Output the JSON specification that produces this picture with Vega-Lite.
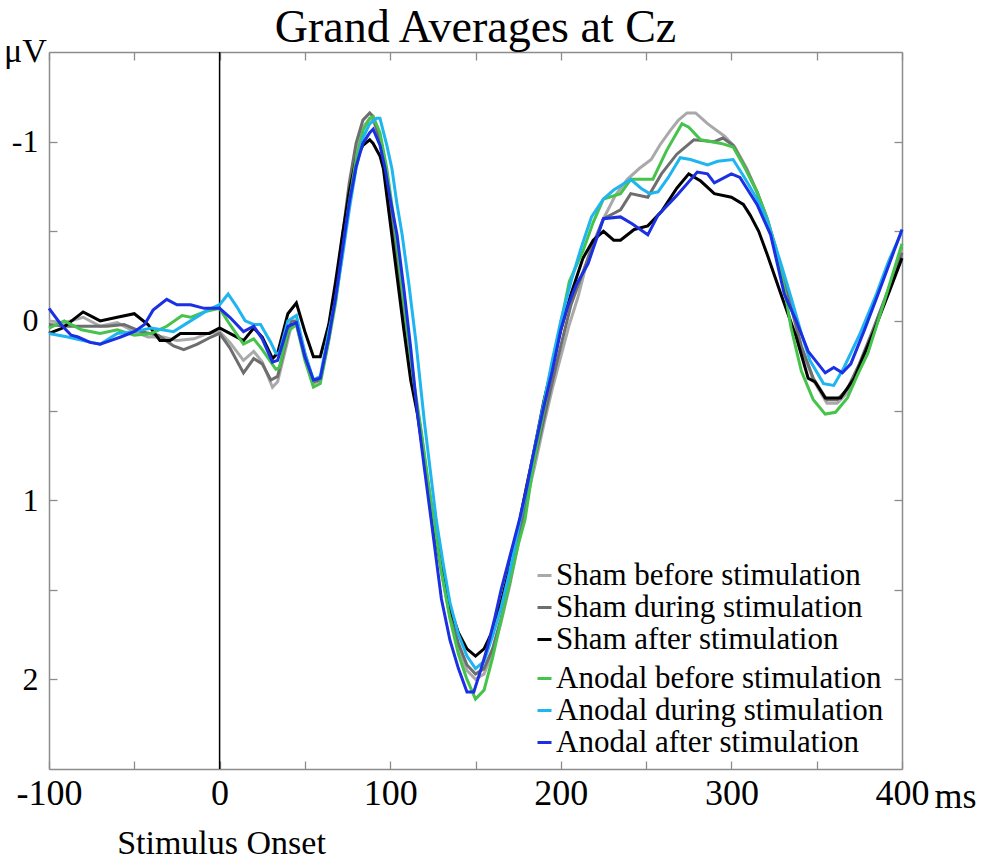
{
  "$schema": "https://vega.github.io/schema/vega-lite/v6.json",
  "width": 853,
  "height": 717,
  "autosize": {"type": "none"},
  "padding": {"left": 49, "top": 52, "right": 81, "bottom": 90},
  "background": "white",
  "config": {
    "font": "Liberation Serif",
    "view": {"stroke": null},
    "axis": {
      "grid": false,
      "domainColor": "#8c8c8c",
      "domainWidth": 1.5,
      "tickColor": "#8c8c8c",
      "tickWidth": 1.3,
      "tickSize": -8,
      "labelFont": "Liberation Serif",
      "labelColor": "black",
      "titleFont": "Liberation Serif",
      "titleColor": "black",
      "titleFontWeight": "normal"
    }
  },
  "title": {
    "text": "Grand Averages at Cz",
    "font": "Liberation Serif",
    "fontSize": 46,
    "fontWeight": "normal",
    "color": "black",
    "anchor": "middle",
    "frame": "group",
    "baseline": "alphabetic",
    "offset": 0,
    "dy": 54
  },
  "datasets": {
    "sham": [
      {"c":"Sham before stimulation","t":-100,"v":0},{"c":"Sham before stimulation","t":-91,"v":0.01},{"c":"Sham before stimulation","t":-80,"v":-0.02},{"c":"Sham before stimulation","t":-70,"v":0.03},{"c":"Sham before stimulation","t":-60,"v":0.01},{"c":"Sham before stimulation","t":-50,"v":0.06},{"c":"Sham before stimulation","t":-42,"v":0.09},{"c":"Sham before stimulation","t":-33,"v":0.09},{"c":"Sham before stimulation","t":-25,"v":0.11},{"c":"Sham before stimulation","t":-15,"v":0.1},{"c":"Sham before stimulation","t":-7,"v":0.07},{"c":"Sham before stimulation","t":0,"v":0.06},{"c":"Sham before stimulation","t":6,"v":0.12},{"c":"Sham before stimulation","t":14,"v":0.22},{"c":"Sham before stimulation","t":20,"v":0.17},{"c":"Sham before stimulation","t":25,"v":0.23},{"c":"Sham before stimulation","t":31,"v":0.37},{"c":"Sham before stimulation","t":34,"v":0.34},{"c":"Sham before stimulation","t":42,"v":0.03},{"c":"Sham before stimulation","t":45,"v":0.02},{"c":"Sham before stimulation","t":50,"v":0.2},{"c":"Sham before stimulation","t":55,"v":0.35},{"c":"Sham before stimulation","t":59,"v":0.33},{"c":"Sham before stimulation","t":64,"v":0.1},{"c":"Sham before stimulation","t":68,"v":-0.12},{"c":"Sham before stimulation","t":72,"v":-0.42},{"c":"Sham before stimulation","t":76,"v":-0.7},{"c":"Sham before stimulation","t":80,"v":-0.93},{"c":"Sham before stimulation","t":84,"v":-1.08},{"c":"Sham before stimulation","t":88,"v":-1.13},{"c":"Sham before stimulation","t":90,"v":-1.12},{"c":"Sham before stimulation","t":94,"v":-1.02},{"c":"Sham before stimulation","t":98,"v":-0.8},{"c":"Sham before stimulation","t":102,"v":-0.52},{"c":"Sham before stimulation","t":106,"v":-0.2},{"c":"Sham before stimulation","t":110,"v":0.1},{"c":"Sham before stimulation","t":114,"v":0.38},{"c":"Sham before stimulation","t":118,"v":0.62},{"c":"Sham before stimulation","t":122,"v":0.9},{"c":"Sham before stimulation","t":126,"v":1.15},{"c":"Sham before stimulation","t":130,"v":1.4},{"c":"Sham before stimulation","t":135,"v":1.65},{"c":"Sham before stimulation","t":140,"v":1.82},{"c":"Sham before stimulation","t":145,"v":1.95},{"c":"Sham before stimulation","t":150,"v":2.0},{"c":"Sham before stimulation","t":155,"v":1.97},{"c":"Sham before stimulation","t":160,"v":1.85},{"c":"Sham before stimulation","t":165,"v":1.68},{"c":"Sham before stimulation","t":170,"v":1.48},{"c":"Sham before stimulation","t":176,"v":1.2},{"c":"Sham before stimulation","t":180,"v":1.0},{"c":"Sham before stimulation","t":185,"v":0.8},{"c":"Sham before stimulation","t":190,"v":0.58},{"c":"Sham before stimulation","t":195,"v":0.38},{"c":"Sham before stimulation","t":200,"v":0.2},{"c":"Sham before stimulation","t":205,"v":0.02},{"c":"Sham before stimulation","t":210,"v":-0.13},{"c":"Sham before stimulation","t":217,"v":-0.39},{"c":"Sham before stimulation","t":225,"v":-0.57},{"c":"Sham before stimulation","t":232,"v":-0.7},{"c":"Sham before stimulation","t":239,"v":-0.79},{"c":"Sham before stimulation","t":246,"v":-0.85},{"c":"Sham before stimulation","t":253,"v":-0.9},{"c":"Sham before stimulation","t":258,"v":-0.98},{"c":"Sham before stimulation","t":264,"v":-1.06},{"c":"Sham before stimulation","t":269,"v":-1.12},{"c":"Sham before stimulation","t":274,"v":-1.16},{"c":"Sham before stimulation","t":279,"v":-1.16},{"c":"Sham before stimulation","t":286,"v":-1.1},{"c":"Sham before stimulation","t":296,"v":-1.03},{"c":"Sham before stimulation","t":302,"v":-0.97},{"c":"Sham before stimulation","t":309,"v":-0.85},{"c":"Sham before stimulation","t":315,"v":-0.72},{"c":"Sham before stimulation","t":321,"v":-0.56},{"c":"Sham before stimulation","t":329,"v":-0.3},{"c":"Sham before stimulation","t":335,"v":-0.08},{"c":"Sham before stimulation","t":341,"v":0.15},{"c":"Sham before stimulation","t":348,"v":0.33},{"c":"Sham before stimulation","t":356,"v":0.46},{"c":"Sham before stimulation","t":362,"v":0.46},{"c":"Sham before stimulation","t":368,"v":0.4},{"c":"Sham before stimulation","t":375,"v":0.26},{"c":"Sham before stimulation","t":383,"v":0.06},{"c":"Sham before stimulation","t":391,"v":-0.14},{"c":"Sham before stimulation","t":400,"v":-0.4},
      {"c":"Sham during stimulation","t":-100,"v":0.02},{"c":"Sham during stimulation","t":-89,"v":0.03},{"c":"Sham during stimulation","t":-78,"v":0.03},{"c":"Sham during stimulation","t":-66,"v":0.03},{"c":"Sham during stimulation","t":-56,"v":0.02},{"c":"Sham during stimulation","t":-46,"v":0.06},{"c":"Sham during stimulation","t":-36,"v":0.08},{"c":"Sham during stimulation","t":-27,"v":0.14},{"c":"Sham during stimulation","t":-21,"v":0.16},{"c":"Sham during stimulation","t":-13,"v":0.13},{"c":"Sham during stimulation","t":-5,"v":0.09},{"c":"Sham during stimulation","t":0,"v":0.07},{"c":"Sham during stimulation","t":6,"v":0.15},{"c":"Sham during stimulation","t":14,"v":0.29},{"c":"Sham during stimulation","t":20,"v":0.21},{"c":"Sham during stimulation","t":25,"v":0.24},{"c":"Sham during stimulation","t":30,"v":0.33},{"c":"Sham during stimulation","t":34,"v":0.31},{"c":"Sham during stimulation","t":42,"v":0},{"c":"Sham during stimulation","t":45,"v":0},{"c":"Sham during stimulation","t":50,"v":0.18},{"c":"Sham during stimulation","t":55,"v":0.34},{"c":"Sham during stimulation","t":59,"v":0.33},{"c":"Sham during stimulation","t":64,"v":0.1},{"c":"Sham during stimulation","t":68,"v":-0.16},{"c":"Sham during stimulation","t":72,"v":-0.47},{"c":"Sham during stimulation","t":76,"v":-0.77},{"c":"Sham during stimulation","t":80,"v":-0.99},{"c":"Sham during stimulation","t":84,"v":-1.12},{"c":"Sham during stimulation","t":88,"v":-1.16},{"c":"Sham during stimulation","t":90,"v":-1.14},{"c":"Sham during stimulation","t":94,"v":-1.0},{"c":"Sham during stimulation","t":98,"v":-0.78},{"c":"Sham during stimulation","t":102,"v":-0.5},{"c":"Sham during stimulation","t":106,"v":-0.2},{"c":"Sham during stimulation","t":110,"v":0.1},{"c":"Sham during stimulation","t":114,"v":0.38},{"c":"Sham during stimulation","t":118,"v":0.62},{"c":"Sham during stimulation","t":122,"v":0.9},{"c":"Sham during stimulation","t":126,"v":1.15},{"c":"Sham during stimulation","t":130,"v":1.38},{"c":"Sham during stimulation","t":135,"v":1.62},{"c":"Sham during stimulation","t":140,"v":1.8},{"c":"Sham during stimulation","t":145,"v":1.92},{"c":"Sham during stimulation","t":150,"v":1.97},{"c":"Sham during stimulation","t":155,"v":1.94},{"c":"Sham during stimulation","t":160,"v":1.83},{"c":"Sham during stimulation","t":165,"v":1.66},{"c":"Sham during stimulation","t":170,"v":1.46},{"c":"Sham during stimulation","t":176,"v":1.18},{"c":"Sham during stimulation","t":180,"v":0.98},{"c":"Sham during stimulation","t":185,"v":0.76},{"c":"Sham during stimulation","t":190,"v":0.55},{"c":"Sham during stimulation","t":195,"v":0.34},{"c":"Sham during stimulation","t":200,"v":0.14},{"c":"Sham during stimulation","t":206,"v":-0.09},{"c":"Sham during stimulation","t":216,"v":-0.35},{"c":"Sham during stimulation","t":225,"v":-0.57},{"c":"Sham during stimulation","t":235,"v":-0.62},{"c":"Sham during stimulation","t":241,"v":-0.71},{"c":"Sham during stimulation","t":251,"v":-0.69},{"c":"Sham during stimulation","t":259,"v":-0.82},{"c":"Sham during stimulation","t":268,"v":-0.93},{"c":"Sham during stimulation","t":278,"v":-1.01},{"c":"Sham during stimulation","t":290,"v":-1.0},{"c":"Sham during stimulation","t":295,"v":-1.02},{"c":"Sham during stimulation","t":301,"v":-0.98},{"c":"Sham during stimulation","t":309,"v":-0.84},{"c":"Sham during stimulation","t":315,"v":-0.72},{"c":"Sham during stimulation","t":321,"v":-0.57},{"c":"Sham during stimulation","t":329,"v":-0.3},{"c":"Sham during stimulation","t":335,"v":-0.08},{"c":"Sham during stimulation","t":341,"v":0.14},{"c":"Sham during stimulation","t":348,"v":0.32},{"c":"Sham during stimulation","t":356,"v":0.44},{"c":"Sham during stimulation","t":362,"v":0.44},{"c":"Sham during stimulation","t":368,"v":0.38},{"c":"Sham during stimulation","t":375,"v":0.24},{"c":"Sham during stimulation","t":383,"v":0.05},{"c":"Sham during stimulation","t":391,"v":-0.15},{"c":"Sham during stimulation","t":400,"v":-0.38},
      {"c":"Sham after stimulation","t":-100,"v":0.07},{"c":"Sham after stimulation","t":-92,"v":0.04},{"c":"Sham after stimulation","t":-80,"v":-0.05},{"c":"Sham after stimulation","t":-70,"v":0},{"c":"Sham after stimulation","t":-60,"v":-0.02},{"c":"Sham after stimulation","t":-50,"v":-0.04},{"c":"Sham after stimulation","t":-42,"v":0.02},{"c":"Sham after stimulation","t":-35,"v":0.11},{"c":"Sham after stimulation","t":-29,"v":0.11},{"c":"Sham after stimulation","t":-23,"v":0.07},{"c":"Sham after stimulation","t":-13,"v":0.07},{"c":"Sham after stimulation","t":-6,"v":0.07},{"c":"Sham after stimulation","t":0,"v":0.04},{"c":"Sham after stimulation","t":6,"v":0.07},{"c":"Sham after stimulation","t":14,"v":0.11},{"c":"Sham after stimulation","t":20,"v":0.04},{"c":"Sham after stimulation","t":25,"v":0.09},{"c":"Sham after stimulation","t":31,"v":0.21},{"c":"Sham after stimulation","t":34,"v":0.18},{"c":"Sham after stimulation","t":40,"v":-0.04},{"c":"Sham after stimulation","t":45,"v":-0.1},{"c":"Sham after stimulation","t":50,"v":0.06},{"c":"Sham after stimulation","t":55,"v":0.2},{"c":"Sham after stimulation","t":59,"v":0.2},{"c":"Sham after stimulation","t":64,"v":0.02},{"c":"Sham after stimulation","t":68,"v":-0.22},{"c":"Sham after stimulation","t":72,"v":-0.48},{"c":"Sham after stimulation","t":76,"v":-0.72},{"c":"Sham after stimulation","t":80,"v":-0.9},{"c":"Sham after stimulation","t":84,"v":-0.98},{"c":"Sham after stimulation","t":88,"v":-1.01},{"c":"Sham after stimulation","t":90,"v":-0.99},{"c":"Sham after stimulation","t":94,"v":-0.92},{"c":"Sham after stimulation","t":96,"v":-0.85},{"c":"Sham after stimulation","t":100,"v":-0.55},{"c":"Sham after stimulation","t":104,"v":-0.25},{"c":"Sham after stimulation","t":108,"v":0.05},{"c":"Sham after stimulation","t":112,"v":0.33},{"c":"Sham after stimulation","t":116,"v":0.52},{"c":"Sham after stimulation","t":120,"v":0.78},{"c":"Sham after stimulation","t":125,"v":1.11},{"c":"Sham after stimulation","t":130,"v":1.38},{"c":"Sham after stimulation","t":135,"v":1.6},{"c":"Sham after stimulation","t":140,"v":1.74},{"c":"Sham after stimulation","t":145,"v":1.83},{"c":"Sham after stimulation","t":150,"v":1.87},{"c":"Sham after stimulation","t":155,"v":1.83},{"c":"Sham after stimulation","t":160,"v":1.73},{"c":"Sham after stimulation","t":165,"v":1.57},{"c":"Sham after stimulation","t":170,"v":1.38},{"c":"Sham after stimulation","t":176,"v":1.11},{"c":"Sham after stimulation","t":180,"v":0.92},{"c":"Sham after stimulation","t":184,"v":0.74},{"c":"Sham after stimulation","t":190,"v":0.45},{"c":"Sham after stimulation","t":195,"v":0.25},{"c":"Sham after stimulation","t":200,"v":0.05},{"c":"Sham after stimulation","t":206,"v":-0.15},{"c":"Sham after stimulation","t":213,"v":-0.35},{"c":"Sham after stimulation","t":219,"v":-0.45},{"c":"Sham after stimulation","t":225,"v":-0.5},{"c":"Sham after stimulation","t":231,"v":-0.45},{"c":"Sham after stimulation","t":235,"v":-0.45},{"c":"Sham after stimulation","t":243,"v":-0.51},{"c":"Sham after stimulation","t":251,"v":-0.53},{"c":"Sham after stimulation","t":259,"v":-0.61},{"c":"Sham after stimulation","t":268,"v":-0.74},{"c":"Sham after stimulation","t":275,"v":-0.82},{"c":"Sham after stimulation","t":282,"v":-0.78},{"c":"Sham after stimulation","t":290,"v":-0.71},{"c":"Sham after stimulation","t":300,"v":-0.69},{"c":"Sham after stimulation","t":307,"v":-0.65},{"c":"Sham after stimulation","t":311,"v":-0.59},{"c":"Sham after stimulation","t":316,"v":-0.5},{"c":"Sham after stimulation","t":321,"v":-0.37},{"c":"Sham after stimulation","t":329,"v":-0.15},{"c":"Sham after stimulation","t":338,"v":0.09},{"c":"Sham after stimulation","t":345,"v":0.32},{"c":"Sham after stimulation","t":349,"v":0.34},{"c":"Sham after stimulation","t":355,"v":0.43},{"c":"Sham after stimulation","t":364,"v":0.43},{"c":"Sham after stimulation","t":372,"v":0.32},{"c":"Sham after stimulation","t":383,"v":0.07},{"c":"Sham after stimulation","t":392,"v":-0.15},{"c":"Sham after stimulation","t":400,"v":-0.35}
    ],
    "anodal": [
      {"c":"Anodal before stimulation","t":-100,"v":0.04},{"c":"Anodal before stimulation","t":-91,"v":0},{"c":"Anodal before stimulation","t":-81,"v":0.05},{"c":"Anodal before stimulation","t":-70,"v":0.07},{"c":"Anodal before stimulation","t":-60,"v":0.05},{"c":"Anodal before stimulation","t":-50,"v":0.08},{"c":"Anodal before stimulation","t":-40,"v":0.07},{"c":"Anodal before stimulation","t":-31,"v":0.03},{"c":"Anodal before stimulation","t":-22,"v":-0.03},{"c":"Anodal before stimulation","t":-17,"v":-0.02},{"c":"Anodal before stimulation","t":-9,"v":-0.05},{"c":"Anodal before stimulation","t":0,"v":-0.07},{"c":"Anodal before stimulation","t":6,"v":0.02},{"c":"Anodal before stimulation","t":14,"v":0.13},{"c":"Anodal before stimulation","t":20,"v":0.1},{"c":"Anodal before stimulation","t":25,"v":0.16},{"c":"Anodal before stimulation","t":33,"v":0.27},{"c":"Anodal before stimulation","t":35,"v":0.26},{"c":"Anodal before stimulation","t":40,"v":0.06},{"c":"Anodal before stimulation","t":45,"v":0.02},{"c":"Anodal before stimulation","t":50,"v":0.22},{"c":"Anodal before stimulation","t":55,"v":0.37},{"c":"Anodal before stimulation","t":59,"v":0.35},{"c":"Anodal before stimulation","t":64,"v":0.11},{"c":"Anodal before stimulation","t":68,"v":-0.1},{"c":"Anodal before stimulation","t":72,"v":-0.38},{"c":"Anodal before stimulation","t":76,"v":-0.66},{"c":"Anodal before stimulation","t":80,"v":-0.9},{"c":"Anodal before stimulation","t":84,"v":-1.06},{"c":"Anodal before stimulation","t":88,"v":-1.13},{"c":"Anodal before stimulation","t":90,"v":-1.14},{"c":"Anodal before stimulation","t":94,"v":-1.05},{"c":"Anodal before stimulation","t":98,"v":-0.85},{"c":"Anodal before stimulation","t":102,"v":-0.58},{"c":"Anodal before stimulation","t":106,"v":-0.27},{"c":"Anodal before stimulation","t":110,"v":0.05},{"c":"Anodal before stimulation","t":114,"v":0.35},{"c":"Anodal before stimulation","t":118,"v":0.6},{"c":"Anodal before stimulation","t":122,"v":0.88},{"c":"Anodal before stimulation","t":126,"v":1.14},{"c":"Anodal before stimulation","t":130,"v":1.4},{"c":"Anodal before stimulation","t":135,"v":1.66},{"c":"Anodal before stimulation","t":140,"v":1.86},{"c":"Anodal before stimulation","t":145,"v":2.0},{"c":"Anodal before stimulation","t":150,"v":2.11},{"c":"Anodal before stimulation","t":155,"v":2.06},{"c":"Anodal before stimulation","t":160,"v":1.88},{"c":"Anodal before stimulation","t":165,"v":1.67},{"c":"Anodal before stimulation","t":170,"v":1.46},{"c":"Anodal before stimulation","t":175,"v":1.25},{"c":"Anodal before stimulation","t":179,"v":1.11},{"c":"Anodal before stimulation","t":184,"v":0.8},{"c":"Anodal before stimulation","t":190,"v":0.5},{"c":"Anodal before stimulation","t":195,"v":0.25},{"c":"Anodal before stimulation","t":199,"v":0.06},{"c":"Anodal before stimulation","t":205,"v":-0.22},{"c":"Anodal before stimulation","t":213,"v":-0.39},{"c":"Anodal before stimulation","t":219,"v":-0.55},{"c":"Anodal before stimulation","t":225,"v":-0.68},{"c":"Anodal before stimulation","t":235,"v":-0.71},{"c":"Anodal before stimulation","t":241,"v":-0.79},{"c":"Anodal before stimulation","t":254,"v":-0.79},{"c":"Anodal before stimulation","t":262,"v":-0.95},{"c":"Anodal before stimulation","t":271,"v":-1.1},{"c":"Anodal before stimulation","t":275,"v":-1.08},{"c":"Anodal before stimulation","t":282,"v":-1.01},{"c":"Anodal before stimulation","t":294,"v":-0.99},{"c":"Anodal before stimulation","t":301,"v":-0.97},{"c":"Anodal before stimulation","t":307,"v":-0.87},{"c":"Anodal before stimulation","t":315,"v":-0.72},{"c":"Anodal before stimulation","t":321,"v":-0.57},{"c":"Anodal before stimulation","t":326,"v":-0.41},{"c":"Anodal before stimulation","t":331,"v":-0.18},{"c":"Anodal before stimulation","t":335,"v":0.04},{"c":"Anodal before stimulation","t":341,"v":0.28},{"c":"Anodal before stimulation","t":348,"v":0.44},{"c":"Anodal before stimulation","t":355,"v":0.52},{"c":"Anodal before stimulation","t":361,"v":0.51},{"c":"Anodal before stimulation","t":368,"v":0.43},{"c":"Anodal before stimulation","t":374,"v":0.3},{"c":"Anodal before stimulation","t":380,"v":0.18},{"c":"Anodal before stimulation","t":390,"v":-0.12},{"c":"Anodal before stimulation","t":400,"v":-0.43},
      {"c":"Anodal during stimulation","t":-100,"v":0.07},{"c":"Anodal during stimulation","t":-89,"v":0.09},{"c":"Anodal during stimulation","t":-80,"v":0.11},{"c":"Anodal during stimulation","t":-70,"v":0.13},{"c":"Anodal during stimulation","t":-60,"v":0.07},{"c":"Anodal during stimulation","t":-50,"v":0.06},{"c":"Anodal during stimulation","t":-40,"v":0.04},{"c":"Anodal during stimulation","t":-27,"v":0.06},{"c":"Anodal during stimulation","t":-17,"v":0},{"c":"Anodal during stimulation","t":-7,"v":-0.06},{"c":"Anodal during stimulation","t":0,"v":-0.09},{"c":"Anodal during stimulation","t":5,"v":-0.15},{"c":"Anodal during stimulation","t":10,"v":-0.08},{"c":"Anodal during stimulation","t":15,"v":0},{"c":"Anodal during stimulation","t":20,"v":0.02},{"c":"Anodal during stimulation","t":24,"v":0.02},{"c":"Anodal during stimulation","t":30,"v":0.12},{"c":"Anodal during stimulation","t":33,"v":0.18},{"c":"Anodal during stimulation","t":35,"v":0.18},{"c":"Anodal during stimulation","t":40,"v":0},{"c":"Anodal during stimulation","t":45,"v":-0.03},{"c":"Anodal during stimulation","t":50,"v":0.18},{"c":"Anodal during stimulation","t":55,"v":0.33},{"c":"Anodal during stimulation","t":59,"v":0.31},{"c":"Anodal during stimulation","t":64,"v":0.06},{"c":"Anodal during stimulation","t":68,"v":-0.12},{"c":"Anodal during stimulation","t":72,"v":-0.36},{"c":"Anodal during stimulation","t":76,"v":-0.62},{"c":"Anodal during stimulation","t":80,"v":-0.85},{"c":"Anodal during stimulation","t":84,"v":-1.02},{"c":"Anodal during stimulation","t":88,"v":-1.1},{"c":"Anodal during stimulation","t":92,"v":-1.13},{"c":"Anodal during stimulation","t":94,"v":-1.13},{"c":"Anodal during stimulation","t":98,"v":-0.98},{"c":"Anodal during stimulation","t":101,"v":-0.85},{"c":"Anodal during stimulation","t":104,"v":-0.65},{"c":"Anodal during stimulation","t":107,"v":-0.48},{"c":"Anodal during stimulation","t":111,"v":-0.2},{"c":"Anodal during stimulation","t":115,"v":0.11},{"c":"Anodal during stimulation","t":120,"v":0.56},{"c":"Anodal during stimulation","t":127,"v":1.11},{"c":"Anodal during stimulation","t":131,"v":1.35},{"c":"Anodal during stimulation","t":135,"v":1.57},{"c":"Anodal during stimulation","t":140,"v":1.75},{"c":"Anodal during stimulation","t":145,"v":1.87},{"c":"Anodal during stimulation","t":150,"v":1.94},{"c":"Anodal during stimulation","t":155,"v":1.9},{"c":"Anodal during stimulation","t":160,"v":1.76},{"c":"Anodal during stimulation","t":165,"v":1.6},{"c":"Anodal during stimulation","t":170,"v":1.4},{"c":"Anodal during stimulation","t":176,"v":1.12},{"c":"Anodal during stimulation","t":180,"v":0.94},{"c":"Anodal during stimulation","t":184,"v":0.74},{"c":"Anodal during stimulation","t":190,"v":0.46},{"c":"Anodal during stimulation","t":195,"v":0.22},{"c":"Anodal during stimulation","t":200,"v":0},{"c":"Anodal during stimulation","t":206,"v":-0.22},{"c":"Anodal during stimulation","t":212,"v":-0.41},{"c":"Anodal during stimulation","t":218,"v":-0.58},{"c":"Anodal during stimulation","t":225,"v":-0.68},{"c":"Anodal during stimulation","t":231,"v":-0.73},{"c":"Anodal during stimulation","t":241,"v":-0.79},{"c":"Anodal during stimulation","t":247,"v":-0.74},{"c":"Anodal during stimulation","t":252,"v":-0.71},{"c":"Anodal during stimulation","t":257,"v":-0.72},{"c":"Anodal during stimulation","t":263,"v":-0.8},{"c":"Anodal during stimulation","t":270,"v":-0.91},{"c":"Anodal during stimulation","t":276,"v":-0.9},{"c":"Anodal during stimulation","t":286,"v":-0.87},{"c":"Anodal during stimulation","t":292,"v":-0.89},{"c":"Anodal during stimulation","t":301,"v":-0.9},{"c":"Anodal during stimulation","t":307,"v":-0.81},{"c":"Anodal during stimulation","t":315,"v":-0.68},{"c":"Anodal during stimulation","t":321,"v":-0.56},{"c":"Anodal during stimulation","t":329,"v":-0.32},{"c":"Anodal during stimulation","t":335,"v":-0.13},{"c":"Anodal during stimulation","t":341,"v":0.07},{"c":"Anodal during stimulation","t":346,"v":0.22},{"c":"Anodal during stimulation","t":354,"v":0.35},{"c":"Anodal during stimulation","t":360,"v":0.36},{"c":"Anodal during stimulation","t":366,"v":0.26},{"c":"Anodal during stimulation","t":375,"v":0.08},{"c":"Anodal during stimulation","t":385,"v":-0.15},{"c":"Anodal during stimulation","t":392,"v":-0.33},{"c":"Anodal during stimulation","t":400,"v":-0.5},
      {"c":"Anodal after stimulation","t":-100,"v":-0.07},{"c":"Anodal after stimulation","t":-93,"v":0.02},{"c":"Anodal after stimulation","t":-87,"v":0.08},{"c":"Anodal after stimulation","t":-83,"v":0.09},{"c":"Anodal after stimulation","t":-76,"v":0.12},{"c":"Anodal after stimulation","t":-70,"v":0.13},{"c":"Anodal after stimulation","t":-64,"v":0.11},{"c":"Anodal after stimulation","t":-58,"v":0.09},{"c":"Anodal after stimulation","t":-50,"v":0.06},{"c":"Anodal after stimulation","t":-44,"v":0.02},{"c":"Anodal after stimulation","t":-39,"v":-0.06},{"c":"Anodal after stimulation","t":-31,"v":-0.12},{"c":"Anodal after stimulation","t":-25,"v":-0.09},{"c":"Anodal after stimulation","t":-17,"v":-0.09},{"c":"Anodal after stimulation","t":-9,"v":-0.07},{"c":"Anodal after stimulation","t":0,"v":-0.07},{"c":"Anodal after stimulation","t":6,"v":-0.02},{"c":"Anodal after stimulation","t":14,"v":0.06},{"c":"Anodal after stimulation","t":20,"v":0.03},{"c":"Anodal after stimulation","t":25,"v":0.1},{"c":"Anodal after stimulation","t":31,"v":0.23},{"c":"Anodal after stimulation","t":34,"v":0.22},{"c":"Anodal after stimulation","t":40,"v":0.03},{"c":"Anodal after stimulation","t":45,"v":0.01},{"c":"Anodal after stimulation","t":50,"v":0.2},{"c":"Anodal after stimulation","t":55,"v":0.33},{"c":"Anodal after stimulation","t":59,"v":0.32},{"c":"Anodal after stimulation","t":64,"v":0.09},{"c":"Anodal after stimulation","t":68,"v":-0.13},{"c":"Anodal after stimulation","t":72,"v":-0.4},{"c":"Anodal after stimulation","t":76,"v":-0.66},{"c":"Anodal after stimulation","t":80,"v":-0.86},{"c":"Anodal after stimulation","t":84,"v":-0.99},{"c":"Anodal after stimulation","t":88,"v":-1.05},{"c":"Anodal after stimulation","t":90,"v":-1.07},{"c":"Anodal after stimulation","t":94,"v":-0.98},{"c":"Anodal after stimulation","t":97,"v":-0.85},{"c":"Anodal after stimulation","t":100,"v":-0.68},{"c":"Anodal after stimulation","t":104,"v":-0.48},{"c":"Anodal after stimulation","t":108,"v":-0.18},{"c":"Anodal after stimulation","t":112,"v":0.15},{"c":"Anodal after stimulation","t":116,"v":0.52},{"c":"Anodal after stimulation","t":120,"v":0.82},{"c":"Anodal after stimulation","t":124,"v":1.11},{"c":"Anodal after stimulation","t":130,"v":1.55},{"c":"Anodal after stimulation","t":135,"v":1.78},{"c":"Anodal after stimulation","t":140,"v":1.94},{"c":"Anodal after stimulation","t":145,"v":2.07},{"c":"Anodal after stimulation","t":149,"v":2.07},{"c":"Anodal after stimulation","t":153,"v":1.95},{"c":"Anodal after stimulation","t":157,"v":1.82},{"c":"Anodal after stimulation","t":161,"v":1.67},{"c":"Anodal after stimulation","t":165,"v":1.5},{"c":"Anodal after stimulation","t":170,"v":1.32},{"c":"Anodal after stimulation","t":176,"v":1.1},{"c":"Anodal after stimulation","t":180,"v":0.93},{"c":"Anodal after stimulation","t":184,"v":0.74},{"c":"Anodal after stimulation","t":190,"v":0.48},{"c":"Anodal after stimulation","t":195,"v":0.28},{"c":"Anodal after stimulation","t":200,"v":0.05},{"c":"Anodal after stimulation","t":204,"v":-0.08},{"c":"Anodal after stimulation","t":209,"v":-0.2},{"c":"Anodal after stimulation","t":216,"v":-0.32},{"c":"Anodal after stimulation","t":225,"v":-0.57},{"c":"Anodal after stimulation","t":235,"v":-0.58},{"c":"Anodal after stimulation","t":242,"v":-0.54},{"c":"Anodal after stimulation","t":251,"v":-0.48},{"c":"Anodal after stimulation","t":257,"v":-0.59},{"c":"Anodal after stimulation","t":268,"v":-0.7},{"c":"Anodal after stimulation","t":280,"v":-0.83},{"c":"Anodal after stimulation","t":286,"v":-0.82},{"c":"Anodal after stimulation","t":290,"v":-0.77},{"c":"Anodal after stimulation","t":300,"v":-0.82},{"c":"Anodal after stimulation","t":305,"v":-0.8},{"c":"Anodal after stimulation","t":315,"v":-0.65},{"c":"Anodal after stimulation","t":323,"v":-0.48},{"c":"Anodal after stimulation","t":331,"v":-0.15},{"c":"Anodal after stimulation","t":338,"v":0},{"c":"Anodal after stimulation","t":345,"v":0.17},{"c":"Anodal after stimulation","t":355,"v":0.29},{"c":"Anodal after stimulation","t":360,"v":0.26},{"c":"Anodal after stimulation","t":365,"v":0.29},{"c":"Anodal after stimulation","t":370,"v":0.24},{"c":"Anodal after stimulation","t":378,"v":0.05},{"c":"Anodal after stimulation","t":386,"v":-0.15},{"c":"Anodal after stimulation","t":393,"v":-0.33},{"c":"Anodal after stimulation","t":400,"v":-0.51}
    ]
  },
  "layer": [
    {
      "data": {"values": [{"t": 0}]},
      "mark": {"type": "rule", "color": "black", "strokeWidth": 1.5},
      "encoding": {
        "x": {"field": "t", "type": "quantitative", "scale": {"domain": [-100, 400], "nice": false}, "axis": null}
      }
    },
    {
      "data": {"name": "sham"},
      "mark": {"type": "line", "strokeWidth": 3},
      "encoding": {
        "x": {
          "field": "t", "type": "quantitative",
          "scale": {"domain": [-100, 400], "nice": false},
          "axis": {
            "orient": "bottom",
            "values": [-100, -50, 0, 50, 100, 150, 200, 250, 300, 350, 400],
            "labelExpr": "datum.value % 100 === 0 ? (datum.value < 0 ? '-' + abs(datum.value) : '' + datum.value) : ''",
            "labelFontSize": 36,
            "labelPadding": 15,
            "labelFlush": false,
            "title": "Stimulus Onset",
            "titleFontSize": 34,
            "titleX": 172,
            "titleY": 84,
            "titleAlign": "center",
            "titleBaseline": "alphabetic"
          }
        },
        "y": {
          "field": "v", "type": "quantitative",
          "scale": {"domain": [-1.5, 2.5], "nice": false, "zero": false, "reverse": true},
          "axis": {
            "orient": "left",
            "values": [-1, -0.5, 0, 0.5, 1, 1.5, 2],
            "labelExpr": "datum.value % 1 === 0 ? (datum.value < 0 ? '-' + abs(datum.value) : '' + datum.value) : ''",
            "labelFontSize": 32,
            "labelPadding": 19,
            "title": "μV",
            "titleFontSize": 34,
            "titleAngle": 0,
            "titleX": -24,
            "titleY": 9,
            "titleAlign": "center",
            "titleBaseline": "alphabetic"
          }
        },
        "color": {
          "field": "c", "type": "nominal",
          "scale": {
            "domain": ["Sham before stimulation", "Sham during stimulation", "Sham after stimulation"],
            "range": ["#a9a9a9", "#6e6e6e", "#000000"]
          },
          "legend": {
            "orient": "none", "legendX": 480, "legendY": 508,
            "title": null, "padding": 0,
            "symbolType": "stroke", "symbolSize": 196, "symbolStrokeWidth": 3,
            "labelFont": "Liberation Serif", "labelFontSize": 31, "labelColor": "black",
            "labelLimit": 500, "labelOffset": -4, "rowPadding": 0
          }
        }
      }
    },
    {
      "data": {"name": "anodal"},
      "mark": {"type": "line", "strokeWidth": 3},
      "encoding": {
        "x": {
          "field": "t", "type": "quantitative",
          "scale": {"domain": [-100, 400], "nice": false},
          "axis": {
            "orient": "top",
            "values": [-100, -50, 0, 50, 100, 150, 200, 250, 300, 350, 400],
            "labels": false,
            "title": "ms",
            "titleFontSize": 36,
            "titleX": 885,
            "titleY": 755,
            "titleAlign": "left",
            "titleBaseline": "alphabetic"
          }
        },
        "y": {
          "field": "v", "type": "quantitative",
          "scale": {"domain": [-1.5, 2.5], "nice": false, "zero": false, "reverse": true},
          "axis": {
            "orient": "right",
            "values": [-1, -0.5, 0, 0.5, 1, 1.5, 2],
            "labels": false,
            "title": null
          }
        },
        "color": {
          "field": "c", "type": "nominal",
          "scale": {
            "domain": ["Anodal before stimulation", "Anodal during stimulation", "Anodal after stimulation"],
            "range": ["#45c34b", "#1fb5f0", "#1b2fe3"]
          },
          "legend": {
            "orient": "none", "legendX": 480, "legendY": 611,
            "title": null, "padding": 0,
            "symbolType": "stroke", "symbolSize": 196, "symbolStrokeWidth": 3,
            "labelFont": "Liberation Serif", "labelFontSize": 31, "labelColor": "black",
            "labelLimit": 500, "labelOffset": -4, "rowPadding": 0
          }
        }
      }
    }
  ],
  "resolve": {
    "scale": {"color": "independent"},
    "axis": {"x": "independent", "y": "independent"}
  }
}
